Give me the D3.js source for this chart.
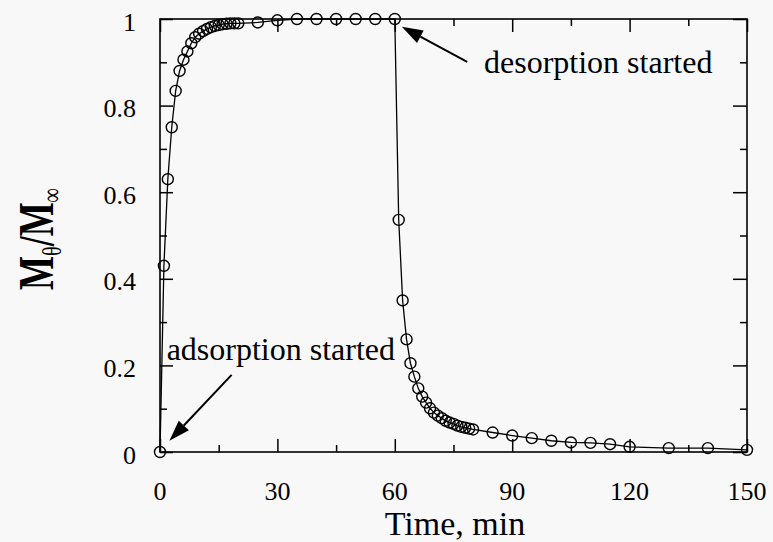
<!DOCTYPE html>
<html>
<head>
<meta charset="utf-8">
<script src="https://cdn.jsdelivr.net/npm/d3@7"></script>
<style>
  html, body { margin: 0; padding: 0; background: #f8f8f8; }
  svg { display: block; }
  text { font-family: "Liberation Serif", "Times New Roman", serif; fill: #000; }
</style>
</head>
<body>
<svg id="chart" width="773" height="542"></svg>
<script>
// ---- data (time in min, fractional uptake M_theta / M_inf) ----
const timeMin = [0, 1, 2, 3, 4, 5, 6, 7, 8, 9, 10, 11, 12, 13, 14, 15, 16, 17, 18, 19, 20,
  25, 30, 35, 40, 45, 50, 55, 60,
  61, 62, 63, 64, 65, 66, 67, 68, 69, 70, 71, 72, 73, 74, 75, 76, 77, 78, 79, 80,
  85, 90, 95, 100, 105, 110, 115, 120, 130, 140, 150];
const uptake = [0, 0.43, 0.63, 0.75, 0.834, 0.88, 0.906, 0.925, 0.944, 0.958, 0.966, 0.972, 0.977, 0.981, 0.984, 0.986, 0.988, 0.989, 0.99, 0.99, 0.99,
  0.992, 0.997, 1.0, 1.0, 1.0, 1.0, 1.0, 1.0,
  0.536, 0.35, 0.26, 0.205, 0.174, 0.147, 0.128, 0.114, 0.101, 0.091, 0.084, 0.078, 0.072, 0.068, 0.065, 0.061, 0.058, 0.056, 0.054, 0.052,
  0.045, 0.038, 0.032, 0.026, 0.022, 0.021, 0.018, 0.012, 0.009, 0.009, 0.005];
const xTicks = [0, 30, 60, 90, 120, 150];
const xMinorTicks = [15, 45, 75, 105, 135];
const yTicks = [0, 0.2, 0.4, 0.6, 0.8, 1];
const yMinorTicks = [0.1, 0.3, 0.5, 0.7, 0.9];
const yTickLabels = ["0", "0.2", "0.4", "0.6", "0.8", "1"];
const annotations = [
  { text: "desorption started", tx: 82.8, ty: 0.876, tail: [78.5, 0.901], tip: [61.8, 0.982] },
  { text: "adsorption started", tx: 1.7, ty: 0.2125, tail: [18.3, 0.178], tip: [2.4, 0.026] }
];

const svg = d3.select("#chart");
const L = 160, R = 747, T = 19, B = 452;
const x = d3.scaleLinear().domain([0, 150]).range([L, R]);
const y = d3.scaleLinear().domain([0, 1]).range([B, T]);

// frame
svg.append("rect").attr("x", L).attr("y", T).attr("width", R - L).attr("height", B - T)
  .attr("fill", "none").attr("stroke", "#000").attr("stroke-width", 1.6);

// axes with inward ticks
function addAxis(axisFn, scale, ticks, len, transform) {
  const g = svg.append("g").attr("transform", transform)
    .call(axisFn(scale).tickValues(ticks).tickSize(len).tickFormat(""));
  g.select(".domain").remove();
  g.selectAll(".tick line").attr("stroke", "#000").attr("stroke-width", 1.5);
}
addAxis(d3.axisBottom, x, xTicks, -13, `translate(0,${B})`);
addAxis(d3.axisBottom, x, xMinorTicks, -7, `translate(0,${B})`);
addAxis(d3.axisTop, x, xTicks, -13, `translate(0,${T})`);
addAxis(d3.axisTop, x, xMinorTicks, -7, `translate(0,${T})`);
addAxis(d3.axisLeft, y, yTicks, -13, `translate(${L},0)`);
addAxis(d3.axisLeft, y, yMinorTicks, -7, `translate(${L},0)`);
addAxis(d3.axisRight, y, yTicks, -14, `translate(${R},0)`);
addAxis(d3.axisRight, y, yMinorTicks, -7, `translate(${R},0)`);

// tick labels
svg.append("g").selectAll("text").data(xTicks).join("text")
  .attr("x", d => x(d)).attr("y", 500)
  .attr("text-anchor", "middle").attr("font-size", 26)
  .text(d => d);
svg.append("g").selectAll("text").data(yTicks).join("text")
  .attr("x", 136).attr("y", d => y(d) + 11.5)
  .attr("text-anchor", "end").attr("font-size", 26)
  .text((d, i) => yTickLabels[i]);

// axis titles
svg.append("text").attr("x", 455).attr("y", 535).attr("text-anchor", "middle")
  .attr("font-size", 34).text("Time, min");

const yl = svg.append("text")
  .attr("transform", "translate(53,239) rotate(-90) scale(0.72,1)")
  .attr("text-anchor", "middle").attr("font-size", 50).attr("font-weight", "bold");
yl.append("tspan").text("M");
yl.append("tspan").attr("font-size", 28).attr("font-weight", "normal").attr("dy", 8).text("θ");
yl.append("tspan").attr("dy", -8).text("/M");
yl.append("tspan").attr("font-size", 28).attr("font-weight", "normal").attr("dy", 8).text("∞");

// line + markers
const line = d3.line().x((d, i) => x(timeMin[i])).y(d => y(d));
svg.append("path").datum(uptake).attr("d", line)
  .attr("fill", "none").attr("stroke", "#000").attr("stroke-width", 1.3);
svg.append("g").selectAll("circle").data(uptake).join("circle")
  .attr("cx", (d, i) => x(timeMin[i])).attr("cy", d => y(d)).attr("r", 5.5)
  .attr("fill", "none").attr("stroke", "#000").attr("stroke-width", 1.4);

// annotations
annotations.forEach(a => {
  svg.append("text").attr("x", x(a.tx)).attr("y", y(a.ty))
    .attr("font-size", 32).text(a.text);
  const x1 = x(a.tail[0]), y1 = y(a.tail[1]), x2 = x(a.tip[0]), y2 = y(a.tip[1]);
  const ang = Math.atan2(y2 - y1, x2 - x1);
  const hl = 21, hw = 7;
  const bx = x2 - hl * Math.cos(ang), by = y2 - hl * Math.sin(ang);
  svg.append("line").attr("x1", x1).attr("y1", y1).attr("x2", bx).attr("y2", by)
    .attr("stroke", "#000").attr("stroke-width", 2);
  const px = -Math.sin(ang) * hw, py = Math.cos(ang) * hw;
  svg.append("polygon")
    .attr("points", `${x2},${y2} ${bx + px},${by + py} ${bx - px},${by - py}`)
    .attr("fill", "#000");
});
</script>
</body>
</html>
